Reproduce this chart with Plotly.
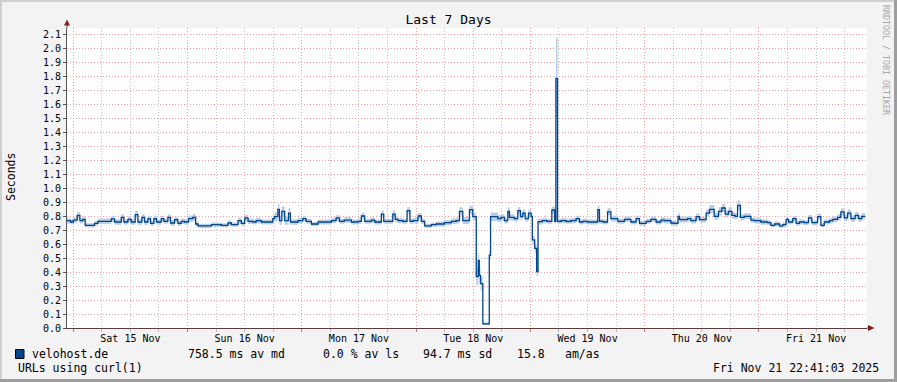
import plotly.graph_objects as go
import pandas as pd

# ---------------- data ----------------
chart_title = "Last 7 Days"
y_title = "Seconds"
host_name = "velohost.de"
probe_desc = "URLs using curl(1)"
stat_texts = ["758.5 ms av md", "0.0 % av ls", "94.7 ms sd", "15.8", "am/as"]
stamp_text = "Fri Nov 21 22:41:03 2025"
side_text = "RRDTOOL / TOBI OETIKER"

ref_midnight = "2025-11-15 00:00:00"
range_start = "2025-11-14 22:41:03"
range_end = "2025-11-21 22:41:03"

# segment start times in hours after Sat 15 Nov 00:00 (step data)
seg_hour = [
    -2.0, -0.57, 0.0, 0.83, 1.39, 2.02, 2.5, 4.47, 5.17, 7.97,
    8.67, 10.07, 10.63, 11.47, 12.17, 13.01, 13.57, 14.41, 14.97, 15.67,
    16.23, 16.93, 17.49, 18.47, 19.03, 19.87, 20.43, 21.27, 21.97, 22.67,
    23.37, 24.2, 25.1, 25.7, 26.2, 29.0, 31.1, 32.5, 33.2, 34.6,
    35.3, 36.0, 36.7, 37.7, 38.4, 39.5, 41.9, 42.26, 42.96, 43.3,
    43.8, 44.4, 45.2, 45.6, 47.2, 48.2, 48.9, 50.0, 51.4, 54.2,
    55.2, 55.9, 56.9, 58.4, 59.8, 60.5, 61.2, 62.6, 63.3, 64.7,
    65.2, 67.1, 67.6, 68.2, 69.2, 70.1, 70.7, 71.3, 72.4, 73.1,
    73.8, 75.2, 76.2, 77.95, 79.4, 80.4, 81.1, 81.8, 83.2, 83.9,
    84.63, 85.05, 85.26, 85.53, 86.01, 87.36, 87.63, 89.15, 89.85, 90.55,
    91.25, 91.6, 92.6, 93.35, 93.9, 94.4, 94.9, 95.6, 96.15, 96.4,
    96.9, 97.3, 97.6, 98.5, 99.5, 100.5, 101.1, 101.35, 101.7, 102.45,
    103.5, 104.5, 105.6, 106.3, 107.0, 108.0, 110.15, 110.5, 111.3, 112.2,
    112.9, 114.35, 115.75, 117.1, 118.2, 118.9, 120.3, 121.3, 122.4, 123.4,
    124.1, 125.5, 126.2, 127.0, 127.3, 129.0, 129.7, 130.8, 131.5, 132.9,
    133.6, 134.6, 135.5, 136.2, 136.9, 137.6, 138.3, 139.0, 139.5, 140.1,
    140.9, 142.3, 143.0, 144.4, 145.8, 146.5, 147.3, 148.3, 149.0, 149.7,
    150.2, 151.1, 151.8, 152.5, 153.5, 154.4, 155.1, 156.3, 157.0, 157.7,
    158.8, 159.5, 160.5, 161.2, 161.9, 162.6, 163.3, 164.2, 164.9, 165.6,
]
end_hour = 166.3

# median round-trip (seconds)
median_s = [
    0.767, 0.757, 0.771, 0.805, 0.767, 0.776, 0.733, 0.748, 0.762, 0.779,
    0.757, 0.790, 0.757, 0.776, 0.757, 0.810, 0.757, 0.790, 0.757, 0.781,
    0.748, 0.781, 0.757, 0.781, 0.762, 0.790, 0.750, 0.774, 0.748, 0.762,
    0.757, 0.781, 0.790, 0.743, 0.729, 0.738, 0.733, 0.750, 0.738, 0.767,
    0.748, 0.786, 0.762, 0.757, 0.767, 0.757, 0.781, 0.795, 0.848, 0.767,
    0.833, 0.767, 0.821, 0.757, 0.767, 0.781, 0.762, 0.743, 0.757, 0.767,
    0.786, 0.762, 0.771, 0.757, 0.762, 0.800, 0.762, 0.771, 0.757, 0.814,
    0.762, 0.814, 0.776, 0.767, 0.762, 0.838, 0.762, 0.767, 0.800, 0.762,
    0.729, 0.738, 0.743, 0.752, 0.762, 0.767, 0.833, 0.767, 0.845, 0.795,
    0.367, 0.483, 0.376, 0.317, 0.029, 0.519, 0.795, 0.781, 0.790, 0.767,
    0.833, 0.790, 0.781, 0.838, 0.795, 0.821, 0.781, 0.821, 0.798, 0.629,
    0.569, 0.402, 0.760, 0.767, 0.762, 0.843, 0.762, 1.783, 0.762, 0.767,
    0.762, 0.767, 0.781, 0.757, 0.762, 0.757, 0.845, 0.762, 0.757, 0.830,
    0.781, 0.762, 0.776, 0.757, 0.781, 0.748, 0.762, 0.776, 0.757, 0.771,
    0.767, 0.750, 0.748, 0.798, 0.774, 0.781, 0.767, 0.795, 0.774, 0.821,
    0.848, 0.798, 0.833, 0.857, 0.814, 0.833, 0.805, 0.798, 0.876, 0.790,
    0.798, 0.771, 0.767, 0.757, 0.752, 0.733, 0.743, 0.729, 0.738, 0.776,
    0.757, 0.781, 0.748, 0.757, 0.752, 0.786, 0.752, 0.795, 0.733, 0.757,
    0.767, 0.776, 0.790, 0.829, 0.786, 0.821, 0.781, 0.805, 0.781, 0.798,
]

# half-width of the smoke (ping spread) around the median (seconds)
smoke_spread = [
    0.020, 0.018, 0.020, 0.025, 0.020, 0.018, 0.015, 0.018, 0.020, 0.022,
    0.020, 0.022, 0.018, 0.020, 0.020, 0.025, 0.020, 0.022, 0.020, 0.020,
    0.018, 0.022, 0.020, 0.020, 0.018, 0.022, 0.020, 0.020, 0.018, 0.020,
    0.020, 0.022, 0.025, 0.018, 0.015, 0.015, 0.015, 0.018, 0.015, 0.020,
    0.018, 0.022, 0.020, 0.018, 0.020, 0.018, 0.022, 0.030, 0.040, 0.030,
    0.035, 0.030, 0.035, 0.020, 0.018, 0.020, 0.018, 0.015, 0.018, 0.018,
    0.020, 0.018, 0.020, 0.018, 0.020, 0.022, 0.018, 0.020, 0.018, 0.025,
    0.018, 0.025, 0.020, 0.018, 0.018, 0.025, 0.018, 0.020, 0.022, 0.020,
    0.015, 0.015, 0.018, 0.018, 0.020, 0.020, 0.030, 0.025, 0.030, 0.025,
    0.060, 0.050, 0.060, 0.050, 0.010, 0.030, 0.030, 0.025, 0.022, 0.020,
    0.030, 0.022, 0.020, 0.025, 0.022, 0.025, 0.020, 0.025, 0.025, 0.030,
    0.030, 0.030, 0.020, 0.018, 0.018, 0.025, 0.018, 0.290, 0.018, 0.018,
    0.018, 0.018, 0.020, 0.018, 0.018, 0.018, 0.030, 0.018, 0.018, 0.025,
    0.020, 0.018, 0.020, 0.018, 0.020, 0.018, 0.018, 0.020, 0.018, 0.020,
    0.020, 0.018, 0.018, 0.022, 0.020, 0.020, 0.020, 0.022, 0.020, 0.025,
    0.030, 0.025, 0.030, 0.030, 0.025, 0.030, 0.025, 0.022, 0.035, 0.022,
    0.022, 0.020, 0.020, 0.020, 0.018, 0.015, 0.018, 0.015, 0.018, 0.020,
    0.018, 0.020, 0.018, 0.018, 0.018, 0.022, 0.018, 0.022, 0.015, 0.018,
    0.020, 0.020, 0.022, 0.025, 0.022, 0.025, 0.022, 0.025, 0.022, 0.022,
]

assert len(seg_hour) == len(median_s) == len(smoke_spread)

# ---------------- build ----------------
base = pd.Timestamp(ref_midnight)
times = [base + pd.Timedelta(hours=h) for h in seg_hour] + [base + pd.Timedelta(hours=end_hour)]
med = median_s + [median_s[-1]]
spr = smoke_spread + [smoke_spread[-1]]
hi = [m + s for m, s in zip(med, spr)]
lo = [max(m - s, 0) for m, s in zip(med, spr)]

W, H = 897, 382
L, R, T, B = 67, 867, 28, 328  # plot area in pixels


def fx(px):
    return (px - L) / (R - L)


def fy(py):
    return (B - py) / (B - T)


MONO = "DejaVu Sans Mono"
LINE_C = "#00468b"
SMOKE_C = "#bccde4"
MGRID = "#f2a0a0"
GRID = "#c4c4c4"

fig = go.Figure()
fig.add_trace(go.Scatter(x=times, y=lo, mode="lines", line=dict(width=0, shape="hv"),
                         hoverinfo="skip", showlegend=False))
fig.add_trace(go.Scatter(x=times, y=hi, mode="lines", line=dict(width=0, shape="hv"),
                         fill="tonexty", fillcolor=SMOKE_C, hoverinfo="skip", showlegend=False))
fig.add_trace(go.Scatter(x=times, y=med, mode="lines", line=dict(color=LINE_C, width=1.3, shape="hv"),
                         showlegend=False))

fig.update_layout(
    width=W, height=H, autosize=False,
    margin=dict(l=L, r=W - R, t=T, b=H - B, pad=0),
    paper_bgcolor="#f3f3f3", plot_bgcolor="#ffffff",
    font=dict(family=MONO, size=10, color="#000000"),
    showlegend=False,
    title=dict(text=chart_title, x=0.5, xref="container", xanchor="center",
               y=1 - 19 / H, yref="container", yanchor="middle",
               font=dict(family=MONO, size=13, color="#000000")),
)

fig.update_xaxes(
    type="date", range=[range_start, range_end],
    tick0=ref_midnight, dtick=86400000, tickformat="%a %d %b", ticklabelmode="period",
    ticklabelstandoff=-2,
    showgrid=True, gridcolor=MGRID, griddash="1px,2px", gridwidth=1,
    ticks="outside", ticklen=3, tickcolor="#e07070", tickwidth=1,
    showline=True, linecolor="#5a3c3c", linewidth=1, zeroline=False,
    tickfont=dict(family=MONO, size=10, color="#000000"),
    minor=dict(tick0=ref_midnight, dtick=21600000, showgrid=True, gridcolor=GRID,
               griddash="1px,2px", gridwidth=1, ticks="outside", ticklen=3, tickcolor="#bbbbbb"),
    fixedrange=True,
)
fig.update_yaxes(
    range=[0, 2.1428571], tick0=0, dtick=0.1, tickformat=".1f",
    showgrid=True, gridcolor=MGRID, griddash="1px,2px", gridwidth=1,
    ticks="outside", ticklen=3, tickcolor="#555555",
    showline=True, linecolor="#555555", linewidth=1, zeroline=False,
    tickfont=dict(family=MONO, size=10, color="#000000"),
    fixedrange=True,
)

shapes = []
# frame shading
shapes.append(dict(type="line", xref="paper", yref="paper", x0=fx(0), x1=fx(W), y0=fy(1), y1=fy(1),
                   line=dict(color="#cfcfcf", width=2)))
shapes.append(dict(type="line", xref="paper", yref="paper", x0=fx(1), x1=fx(1), y0=fy(0), y1=fy(H),
                   line=dict(color="#cfcfcf", width=2)))
shapes.append(dict(type="line", xref="paper", yref="paper", x0=fx(W - 1.5), x1=fx(W - 1.5), y0=fy(0), y1=fy(H),
                   line=dict(color="#9e9e9e", width=3)))
shapes.append(dict(type="line", xref="paper", yref="paper", x0=fx(0), x1=fx(W), y0=fy(H - 1.5), y1=fy(H - 1.5),
                   line=dict(color="#9e9e9e", width=3)))
# axis extensions and arrows
shapes.append(dict(type="line", xref="paper", yref="paper", x0=fx(R), x1=fx(870), y0=0, y1=0,
                   line=dict(color="#5a3c3c", width=1)))
shapes.append(dict(type="line", xref="paper", yref="paper", x0=0, x1=0, y0=1, y1=fy(24),
                   line=dict(color="#555555", width=1)))
shapes.append(dict(type="path", xref="paper", yref="paper",
                   path=f"M {fx(868)} {fy(325)} L {fx(874.5)} {fy(328)} L {fx(868)} {fy(331)} Z",
                   fillcolor="#7f1f1f", line=dict(width=0)))
shapes.append(dict(type="path", xref="paper", yref="paper",
                   path=f"M {fx(64)} {fy(25.5)} L {fx(67)} {fy(19.5)} L {fx(70)} {fy(25.5)} Z",
                   fillcolor="#7f1f1f", line=dict(width=0)))
# legend swatch
shapes.append(dict(type="rect", xref="paper", yref="paper", x0=fx(15.5), x1=fx(24), y0=fy(358.5), y1=fy(349.5),
                   fillcolor=LINE_C, line=dict(color="#000000", width=1)))
fig.update_layout(shapes=shapes)

ann = []
ann.append(dict(text=y_title, x=fx(11), y=fy(177), xref="paper", yref="paper", showarrow=False,
                textangle=-90, xanchor="center", yanchor="middle",
                font=dict(family=MONO, size=11.5, color="#000000")))
ann.append(dict(text=side_text, x=fx(886), y=fy(60), xref="paper", yref="paper", showarrow=False,
                textangle=90, xanchor="center", yanchor="middle",
                font=dict(family=MONO, size=8.3, color="#a8a8a8")))
ann.append(dict(text=host_name, x=fx(30), y=fy(354), xref="paper", yref="paper", showarrow=False,
                xanchor="left", yanchor="middle", font=dict(family=MONO, size=11.5, color="#000000")))
stat_x = [186, 321, 421, 515, 563]
for txt, sx in zip(stat_texts, stat_x):
    ann.append(dict(text=txt, x=fx(sx), y=fy(354), xref="paper", yref="paper", showarrow=False,
                    xanchor="left", yanchor="middle", font=dict(family=MONO, size=11.5, color="#000000")))
ann.append(dict(text=probe_desc, x=fx(16), y=fy(368), xref="paper", yref="paper", showarrow=False,
                xanchor="left", yanchor="middle", font=dict(family=MONO, size=11.5, color="#000000")))
ann.append(dict(text=stamp_text, x=fx(881), y=fy(368), xref="paper", yref="paper", showarrow=False,
                xanchor="right", yanchor="middle", font=dict(family=MONO, size=11.5, color="#000000")))
fig.update_layout(annotations=ann)

fig.write_html("out.html", config={"displayModeBar": False},
               post_script="document.body.style.margin='0';document.body.style.padding='0';"
                           "document.documentElement.style.overflow='hidden';")
